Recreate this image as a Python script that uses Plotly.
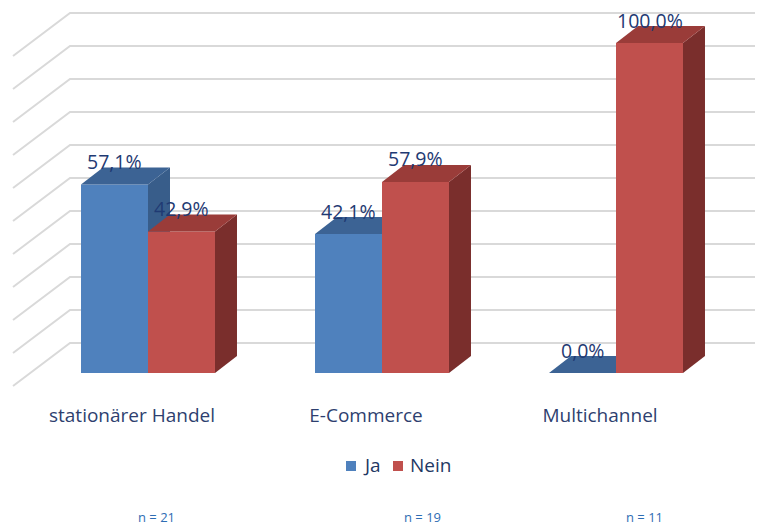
import plotly.graph_objects as go

# ---------------- data ----------------
categories = ["stationärer Handel", "E-Commerce", "Multichannel"]
series_names = ["Ja", "Nein"]
ja_values = [57.1, 42.1, 0.0]
nein_values = [42.9, 57.9, 100.0]
n_labels = ["n = 21", "n = 19", "n = 11"]
grid_values = [0, 10, 20, 30, 40, 50, 60, 70, 80, 90, 100]

# ---------------- styling / geometry ----------------
FONT = "Open Sans"
BAR_W = 0.2863          # bar width in category units
DX, DY = 0.094, 5.15    # 3-D depth offset (x units, value units)
WALL_DY = 9.09          # back wall lies behind the bar fronts
WALL_X = -0.3333        # back wall left edge
WALL_FRONT_X = -0.5769  # left wall front edge
WALL_FRONT_DY = 13.03
XR = [-0.59829, 2.62821]
YR = [-8.18, 110.61]
FIG_W, FIG_H = 755, 519     # page body adds an 8px margin
PLOT_H = 392

COL = {
    "Ja":   {"front": "#4F81BD", "top": "#3C6394", "side": "#385D8A"},
    "Nein": {"front": "#C0504D", "top": "#9A3C39", "side": "#7A2E2C"},
}


def px_x(p):   # screen x -> paper x
    return (p - 8) / FIG_W


def px_y(p):   # screen y -> paper y
    return (PLOT_H - (p - 8)) / PLOT_H


fig = go.Figure()

# back wall grid (base subplot)
gx, gy = [], []
for g in grid_values:
    y = g + WALL_DY
    gx += [WALL_FRONT_X, WALL_X, XR[1] + 0.2, None]
    gy += [y - WALL_FRONT_DY, y, y, None]
fig.add_trace(go.Scatter(x=gx, y=gy, mode="lines",
                         line=dict(color="#D9D9D9", width=2),
                         showlegend=False, hoverinfo="skip"))


def add_series(name, values, offset_sign, xa, ya):
    c = COL[name]
    fig.add_trace(go.Bar(x=list(range(len(values))), y=values, name=name,
                         width=BAR_W, offset=-BAR_W if offset_sign < 0 else 0,
                         marker=dict(color=c["front"], line=dict(width=0)),
                         xaxis=xa, yaxis=ya, hoverinfo="skip", showlegend=False))
    for i, v in enumerate(values):
        x0 = i - BAR_W if offset_sign < 0 else i
        x1 = x0 + BAR_W
        # side face
        fig.add_trace(go.Scatter(
            x=[x1, x1 + DX, x1 + DX, x1, x1], y=[0, DY, v + DY, v, 0],
            fill="toself", fillcolor=c["side"], mode="lines",
            line=dict(width=0, color=c["side"]), showlegend=False,
            hoverinfo="skip", xaxis=xa, yaxis=ya))
        # top face
        fig.add_trace(go.Scatter(
            x=[x0, x1, x1 + DX, x0 + DX, x0], y=[v, v, v + DY, v + DY, v],
            fill="toself", fillcolor=c["top"], mode="lines",
            line=dict(width=0, color=c["top"]), showlegend=False,
            hoverinfo="skip", xaxis=xa, yaxis=ya))


add_series("Ja", ja_values, -1, "x2", "y2")
add_series("Nein", nein_values, 1, "x3", "y3")

annotations = []
# value labels
for vals, sign in ((ja_values, -1), (nein_values, 1)):
    for i, v in enumerate(vals):
        annotations.append(dict(
            x=i + sign * BAR_W / 2, y=v + DY, xref="x", yref="y",
            text=f"{v:.1f}".replace(".", ",") + "%", showarrow=False,
            yanchor="middle", yshift=6,
            font=dict(family=FONT, size=19.5, color="#1F3A73")))

# legend (square + label)
legend_sq_x = [351, 398]
legend_txt_x = [361, 408]
for name, sx, tx in zip(series_names, legend_sq_x, legend_txt_x):
    annotations.append(dict(x=px_x(sx), y=px_y(465.5), xref="paper", yref="paper",
                            text="", width=10, height=10, bgcolor=COL[name]["front"],
                            showarrow=False, xanchor="center", yanchor="middle",
                            borderpad=0, borderwidth=0))
    annotations.append(dict(x=px_x(tx), y=px_y(465), xref="paper", yref="paper",
                            text=name, showarrow=False, xanchor="left",
                            yanchor="middle",
                            font=dict(family=FONT, size=19, color="#1F3864")))

# n = ... notes
n_pos = [136, 422, 665]
for t, p in zip(n_labels, n_pos):
    annotations.append(dict(x=px_x(p), y=px_y(517), xref="paper", yref="paper",
                            text=t, showarrow=False, yanchor="middle",
                            font=dict(family=FONT, size=13, color="#2E6DB4")))

axis_common = dict(showgrid=False, zeroline=False, fixedrange=True)
fig.update_layout(
    width=FIG_W, height=FIG_H,
    margin=dict(l=0, r=0, t=0, b=FIG_H - PLOT_H),
    paper_bgcolor="white", plot_bgcolor="white",
    hovermode=False,
    xaxis=dict(range=XR, tickmode="array", tickvals=list(range(len(categories))),
               ticktext=categories, ticks="", showline=False,
               ticklabelshift=-16, ticklabelstandoff=2,
               tickfont=dict(family=FONT, size=19, color="#2E3F6F"), **axis_common),
    yaxis=dict(range=YR, visible=False, **axis_common),
    xaxis2=dict(range=XR, overlaying="x", anchor="y2", visible=False, **axis_common),
    yaxis2=dict(range=YR, overlaying="y", anchor="x2", visible=False, **axis_common),
    xaxis3=dict(range=XR, overlaying="x", anchor="y3", visible=False, **axis_common),
    yaxis3=dict(range=YR, overlaying="y", anchor="x3", visible=False, **axis_common),
    annotations=annotations,
    showlegend=False,
)

fig.write_html("out.html")
